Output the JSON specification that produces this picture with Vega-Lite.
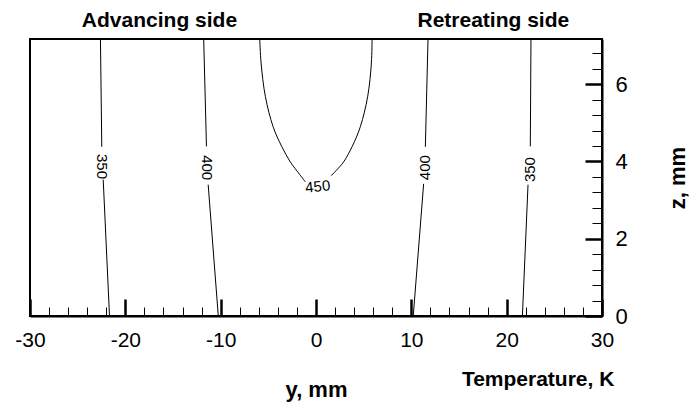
{
  "$schema": "https://vega.github.io/schema/vega-lite/v6.json",
  "width": 572,
  "height": 277,
  "autosize": {"type": "none"},
  "padding": {"left": 30, "top": 39, "right": 89, "bottom": 93},
  "background": "white",
  "config": {
    "view": {"stroke": "black", "strokeWidth": 2},
    "font": "Liberation Sans"
  },
  "datasets": {
    "lines": [
      {"seg": "350L-a", "i": 0, "y": -22.61, "z": 7.17},
      {"seg": "350L-a", "i": 1, "y": -22.47, "z": 4.38},
      {"seg": "350L-b", "i": 0, "y": -22.32, "z": 3.53},
      {"seg": "350L-b", "i": 1, "y": -21.66, "z": 0},
      {"seg": "400L-a", "i": 0, "y": -11.78, "z": 7.17},
      {"seg": "400L-a", "i": 1, "y": -11.49, "z": 4.39},
      {"seg": "400L-b", "i": 0, "y": -11.31, "z": 3.4},
      {"seg": "400L-b", "i": 1, "y": -10.25, "z": 0},
      {"seg": "400R-a", "i": 0, "y": 11.75, "z": 7.17},
      {"seg": "400R-a", "i": 1, "y": 11.47, "z": 4.38},
      {"seg": "400R-b", "i": 0, "y": 11.29, "z": 3.42},
      {"seg": "400R-b", "i": 1, "y": 10.2, "z": 0},
      {"seg": "350R-a", "i": 0, "y": 22.55, "z": 7.17},
      {"seg": "350R-a", "i": 1, "y": 22.48, "z": 4.39},
      {"seg": "350R-b", "i": 0, "y": 22.24, "z": 3.4},
      {"seg": "350R-b", "i": 1, "y": 21.65, "z": 0},
      {"seg": "450-a", "i": 0, "y": -5.9, "z": 7.17},
      {"seg": "450-a", "i": 1, "y": -5.76, "z": 6.55},
      {"seg": "450-a", "i": 2, "y": -5.31, "z": 5.68},
      {"seg": "450-a", "i": 3, "y": -4.5, "z": 4.9},
      {"seg": "450-a", "i": 4, "y": -3.6, "z": 4.39},
      {"seg": "450-a", "i": 5, "y": -2.7, "z": 3.99},
      {"seg": "450-a", "i": 6, "y": -1.7, "z": 3.66},
      {"seg": "450-a", "i": 7, "y": -1.11, "z": 3.47},
      {"seg": "450-b", "i": 0, "y": 5.88, "z": 7.17},
      {"seg": "450-b", "i": 1, "y": 5.81, "z": 6.55},
      {"seg": "450-b", "i": 2, "y": 5.42, "z": 5.68},
      {"seg": "450-b", "i": 3, "y": 4.65, "z": 4.9},
      {"seg": "450-b", "i": 4, "y": 3.8, "z": 4.39},
      {"seg": "450-b", "i": 5, "y": 2.9, "z": 3.99},
      {"seg": "450-b", "i": 6, "y": 2.1, "z": 3.76},
      {"seg": "450-b", "i": 7, "y": 1.58, "z": 3.63}
    ],
    "labelsDown": [
      {"label": "350", "y": -22.45, "z": 3.87},
      {"label": "400", "y": -11.39, "z": 3.84}
    ],
    "labelsUp": [
      {"label": "400", "y": 11.42, "z": 3.84},
      {"label": "350", "y": 22.43, "z": 3.79}
    ],
    "labelsFlat": [
      {"label": "450", "y": 0.18, "z": 3.35}
    ],
    "notes": [
      {"label": "Advancing side", "y": -16.42, "z": 7.49},
      {"label": "Retreating side", "y": 18.6, "z": 7.49},
      {"label": "Temperature, K", "y": 23.3, "z": -1.82}
    ]
  },
  "encoding": {
    "x": {
      "field": "y",
      "type": "quantitative",
      "scale": {"domain": [-30, 30], "nice": false, "zero": false},
      "axis": {
        "orient": "bottom",
        "title": "y, mm",
        "values": [-30, -28, -26, -24, -22, -20, -18, -16, -14, -12, -10, -8, -6, -4, -2, 0, 2, 4, 6, 8, 10, 12, 14, 16, 18, 20, 22, 24, 26, 28, 30],
        "labelExpr": "datum.value % 10 === 0 ? toString(datum.value) : ''",
        "tickSize": {"condition": {"test": "datum.value % 10 === 0", "value": -17}, "value": -9},
        "tickWidth": {"condition": {"test": "datum.value % 10 === 0", "value": 2.5}, "value": 1},
        "tickColor": "black",
        "domainColor": "black",
        "domainWidth": 2,
        "grid": false,
        "labelFont": "Liberation Sans",
        "labelFontSize": 21,
        "labelColor": "black",
        "labelPadding": 30,
        "labelFlush": false,
        "labelOverlap": false,
        "titleFont": "Liberation Sans",
        "titleFontSize": 22,
        "titleFontWeight": "bold",
        "titleColor": "black",
        "titlePadding": 21
      }
    },
    "y": {
      "field": "z",
      "type": "quantitative",
      "scale": {"domain": [0, 7.17], "nice": false, "zero": false},
      "axis": {
        "orient": "right",
        "title": "z, mm",
        "values": [0, 0.4, 0.8, 1.2, 1.6, 2, 2.4, 2.8, 3.2, 3.6, 4, 4.4, 4.8, 5.2, 5.6, 6, 6.4, 6.8],
        "labelExpr": "datum.value % 2 === 0 ? toString(datum.value) : ''",
        "tickSize": {"condition": {"test": "datum.value % 2 === 0", "value": -17}, "value": -10},
        "tickWidth": {"condition": {"test": "datum.value % 2 === 0", "value": 2.5}, "value": 1},
        "tickColor": "black",
        "domainColor": "black",
        "domainWidth": 2,
        "grid": false,
        "labelFont": "Liberation Sans",
        "labelFontSize": 22,
        "labelColor": "black",
        "labelPadding": 30,
        "labelFlush": false,
        "labelOverlap": false,
        "titleFont": "Liberation Sans",
        "titleFontSize": 22,
        "titleFontWeight": "bold",
        "titleColor": "black",
        "titleAngle": 270,
        "titleBaseline": "top",
        "titlePadding": 40
      }
    }
  },
  "layer": [
    {
      "data": {"name": "lines"},
      "mark": {"type": "line", "color": "black", "strokeWidth": 1, "interpolate": "catmull-rom"},
      "encoding": {
        "detail": {"field": "seg", "type": "nominal"},
        "order": {"field": "i", "type": "quantitative"}
      }
    },
    {
      "data": {"name": "labelsDown"},
      "mark": {"type": "text", "angle": 90, "fontSize": 15, "font": "Liberation Sans", "color": "black", "align": "center", "baseline": "middle"},
      "encoding": {"text": {"field": "label", "type": "nominal"}}
    },
    {
      "data": {"name": "labelsUp"},
      "mark": {"type": "text", "angle": 270, "fontSize": 15, "font": "Liberation Sans", "color": "black", "align": "center", "baseline": "middle"},
      "encoding": {"text": {"field": "label", "type": "nominal"}}
    },
    {
      "data": {"name": "labelsFlat"},
      "mark": {"type": "text", "angle": 354, "fontSize": 15, "font": "Liberation Sans", "color": "black", "align": "center", "baseline": "middle"},
      "encoding": {"text": {"field": "label", "type": "nominal"}}
    },
    {
      "data": {"name": "notes"},
      "mark": {"type": "text", "fontSize": 21, "fontWeight": "bold", "font": "Liberation Sans", "color": "black", "align": "center", "baseline": "alphabetic"},
      "encoding": {"text": {"field": "label", "type": "nominal"}}
    }
  ]
}
